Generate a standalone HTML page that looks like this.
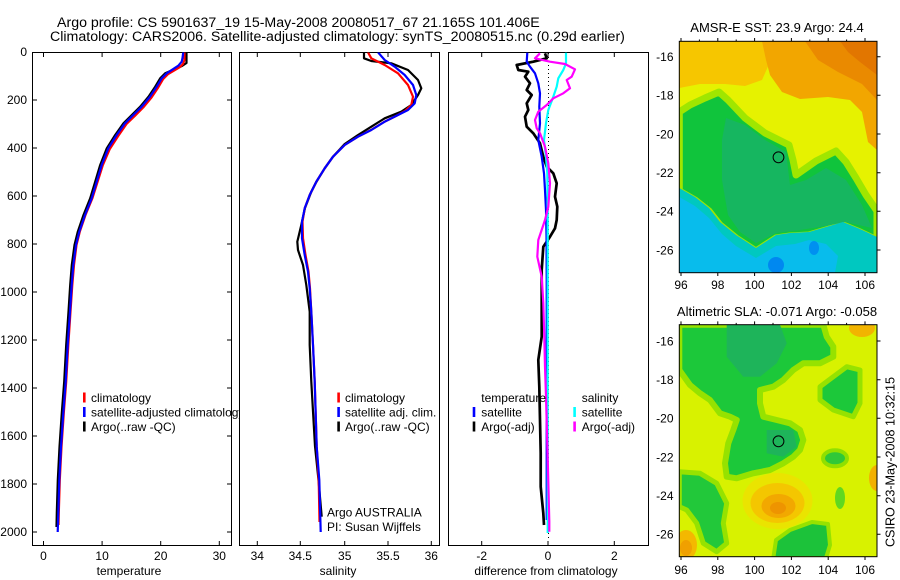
<!DOCTYPE html>
<html><head><meta charset="utf-8">
<style>
html,body{margin:0;padding:0;background:#fff;}
svg{display:block;}
text{font-family:"Liberation Sans",Arial,sans-serif;fill:#000;}
</style></head>
<body>
<svg width="900" height="580" viewBox="0 0 900 580" xmlns="http://www.w3.org/2000/svg">
<defs>
<clipPath id="c1"><rect x="32.5" y="52.5" width="199" height="493"/></clipPath>
<clipPath id="c2"><rect x="239.5" y="52.5" width="200" height="493"/></clipPath>
<clipPath id="c3"><rect x="448.5" y="52.5" width="200" height="493"/></clipPath>
<clipPath id="m1"><rect x="679.3" y="41.3" width="197.7" height="231.4"/></clipPath>
<clipPath id="m2"><rect x="679.3" y="324.7" width="197.7" height="232"/></clipPath>
</defs>
<rect width="900" height="580" fill="#fff"/>

<!-- Titles -->
<text x="57" y="27" font-size="14.2">Argo profile: CS 5901637_19 15-May-2008 20080517_67 21.165S 101.406E</text>
<text x="50" y="41" font-size="14.2">Climatology: CARS2006. Satellite-adjusted climatology: synTS_20080515.nc (0.29d earlier)</text>

<!-- ============ PANEL 1 ============ -->
<rect x="32.5" y="52.5" width="199" height="493" fill="#fff" stroke="#000" stroke-width="1"/>
<g stroke="#000" stroke-width="1">
<path d="M32.5 100H37M32.5 148H37M32.5 196H37M32.5 244H37M32.5 292H37M32.5 340H37M32.5 388H37M32.5 436H37M32.5 484H37M32.5 532H37"/>
<path d="M231.5 100H227M231.5 148H227M231.5 196H227M231.5 244H227M231.5 292H227M231.5 340H227M231.5 388H227M231.5 436H227M231.5 484H227M231.5 532H227"/>
<path d="M43.5 52.5V57M102.1 52.5V57M160.7 52.5V57M219.3 52.5V57"/>
<path d="M43.5 545.5V541M102.1 545.5V541M160.7 545.5V541M219.3 545.5V541"/>
</g>
<g font-size="12" text-anchor="end">
<text x="27" y="56">0</text><text x="27" y="104">200</text><text x="27" y="152">400</text>
<text x="27" y="200">600</text><text x="27" y="248">800</text><text x="27" y="296">1000</text>
<text x="27" y="344">1200</text><text x="27" y="392">1400</text><text x="27" y="440">1600</text>
<text x="27" y="488">1800</text><text x="27" y="536">2000</text>
</g>
<g font-size="12" text-anchor="middle">
<text x="43.5" y="560">0</text><text x="102.1" y="560">10</text><text x="160.7" y="560">20</text><text x="219.3" y="560">30</text>
<text x="129" y="575">temperature</text>
</g>
<g clip-path="url(#c1)" fill="none" stroke-width="2.2" stroke-linejoin="round">
<polyline stroke="#000" points="186.5,52 186.5,63 182,66 165.2,73.3 160.2,78.3 155.2,86.7 148.5,96.7 140.2,106.7 131.8,115 123.5,123.3 115.2,135 106.8,148.3 100.2,165 95.2,181.7 90.2,198.3 83.5,215 77.8,231.7 74.5,245 71.8,265 70.2,285 68.5,311.7 66.2,345 64.2,381.7 61.8,413 59.5,447 57.8,480 56.8,513 56.5,527"/>
<polyline stroke="#f00" points="184.5,52 184.5,60 183,64 180,67 168.2,74 163.2,79 158.2,87.5 151.5,97.5 143.2,107.5 134.8,116 126.5,124 118.2,136 109.8,149 102.7,165.5 97.5,182 92.3,198.5 85.5,215 79.8,231.7 76.5,245 74,265 72.3,285 70.5,311.7 68.3,345 66.2,381.7 63.8,413 61.5,447 59.8,480 58.8,513 58.5,525"/>
<polyline stroke="#00f" points="183.3,52 182.5,58 181.7,61.7 178.3,65.7 166.7,73.3 161.7,78.3 156.7,86.7 150,96.7 141.7,106.7 133.3,115 125,123.3 116.7,135 108.3,148.3 101.7,165 96.7,181.7 91.7,198.3 85,215 79.3,231.7 76,245 73.3,265 71.7,285 70,311.7 67.7,345 65.7,381.7 63.3,413 61,447 59.3,480 58.3,513 57.7,532"/>
</g>
<!-- legend 1 -->
<rect x="83" y="392.5" width="2.6" height="10" fill="#f00"/>
<rect x="83" y="407" width="2.6" height="10" fill="#00f"/>
<rect x="83" y="421.5" width="2.6" height="10" fill="#000"/>
<g font-size="12">
<text x="91" y="402">climatology</text>
<text x="91" y="416.5">satellite-adjusted climatology</text>
<text x="91" y="431">Argo(..raw -QC)</text>
</g>

<!-- ============ PANEL 2 ============ -->
<rect x="239.5" y="52.5" width="200" height="493" fill="#fff" stroke="#000" stroke-width="1"/>
<g stroke="#000" stroke-width="1">
<path d="M257.3 52.5V57M300.3 52.5V57M344.7 52.5V57M388 52.5V57M431.3 52.5V57"/>
<path d="M257.3 545.5V541M300.3 545.5V541M344.7 545.5V541M388 545.5V541M431.3 545.5V541"/>
</g>
<g font-size="12" text-anchor="middle">
<text x="257.3" y="560">34</text><text x="300.3" y="560">34.5</text><text x="344.7" y="560">35</text><text x="388" y="560">35.5</text><text x="431.3" y="560">36</text>
<text x="338" y="575">salinity</text>
</g>
<g clip-path="url(#c2)" fill="none" stroke-width="2.2" stroke-linejoin="round">
<polyline stroke="#000" points="364,52.3 364,58.3 371.3,61 391.3,63.3 408,70 418,80 421.3,88.3 418,95 411.3,105 401.3,111.7 384.7,118.3 371.3,126.7 358,135 344.7,144 333,156.7 324.7,168.3 316.3,182 311.3,191.7 305,208 301.3,225 297.3,241.7 298,250 303,265 306.3,285 309.7,311.7 309.7,345 311.3,381.7 315,446 318.5,480 321.7,516.7"/>
<polyline stroke="#f00" points="368,52.3 371.3,58.3 384.7,65 398,73.3 408,85 413,96.7 411.3,105 405,111 396,116 384,122 371,130 358,136.7 344.7,145 333,156.7 324.7,168.3 316.3,181.7 309.7,195 304.7,208.3 302.5,221.7 303,238.3 305.5,255 308.5,271.7 310,288.3 311.3,311.7 313,345 314.7,381.7 316.7,446.7 318.7,480 319.5,522"/>
<polyline stroke="#00f" points="378,52.3 384.7,60 394.7,66.7 404.7,75 413,85 416.3,95 414.7,103.3 408,110 398,115 384.7,121.7 371.3,130 358,136.7 344.7,145 333,156.7 324.7,168.3 316.3,181.7 309.7,195 304.7,208.3 302,221.7 302,238.3 304.7,255 308,271.7 309.7,288.3 311.3,311.7 313,345 314.7,381.7 316.7,446.7 319.3,480 320.7,532"/>
</g>
<rect x="337.3" y="392.5" width="2.6" height="10" fill="#f00"/>
<rect x="337.3" y="407" width="2.6" height="10" fill="#00f"/>
<rect x="337.3" y="421.5" width="2.6" height="10" fill="#000"/>
<g font-size="12">
<text x="345" y="402">climatology</text>
<text x="345" y="416.5">satellite adj. clim.</text>
<text x="345" y="431">Argo(..raw -QC)</text>
<text x="327" y="516.5">Argo AUSTRALIA</text>
<text x="327" y="531">PI: Susan Wijffels</text>
</g>

<!-- ============ PANEL 3 ============ -->
<rect x="448.5" y="52.5" width="200" height="493" fill="#fff" stroke="#000" stroke-width="1"/>
<g stroke="#000" stroke-width="1">
<path d="M481.7 52.5V57M548 52.5V57M614.3 52.5V57"/>
<path d="M481.7 545.5V541M548 545.5V541M614.3 545.5V541"/>
</g>
<line x1="548.5" y1="53" x2="548.5" y2="538" stroke="#000" stroke-width="1" stroke-dasharray="1 3"/>
<g font-size="12" text-anchor="middle">
<text x="481.7" y="560">-2</text><text x="548" y="560">0</text><text x="614.3" y="560">2</text>
<text x="546" y="575">difference from climatology</text>
</g>
<g clip-path="url(#c3)" fill="none" stroke-linejoin="round">
<polyline stroke="#000" stroke-width="2.7" points="545,53.3 546.7,58.3 533.3,61.7 516.7,65 518.3,70 528.3,71.7 525,76.7 530,83.3 526.7,90 531.7,95 526.7,103.3 528.3,110 525,116.7 526.7,126.7 533.3,133.3 540,143.3 543.3,156.7 546.7,166.7 553.3,173.3 556.7,183.3 555,196.7 557.3,206.7 556.7,220 555,228.3 550,236.7 543.3,246.7 541.7,270 541.7,303 541.7,336.7 538.3,360 539.3,386.7 540,420 540.7,453 540.7,486.7 543.3,513.3 544,525"/>
<polyline stroke="#00f" stroke-width="2.2" points="527.3,52.7 526.7,61.7 530,66.7 535,73.3 538.3,83.3 540,93.3 539.3,106.7 540,123.3 538.3,140 541.7,156.7 544,173.3 545,190 546,210 546.5,236 546.7,280 546.7,400 546.7,460 546.7,520"/>
<polyline stroke="#0ff" stroke-width="2.2" points="566,52.7 566,63.3 563.3,70 558.3,78.3 556.7,86.7 553.3,96.7 548.3,110 546,123.3 544,140 546,156.7 547.3,173.3 547.7,206.7 547.7,240 547.7,533"/>
<polyline stroke="#f0f" stroke-width="2.2" points="540,53.3 535,58.3 550,61.7 565,64 575,69.3 571.7,76.7 566.7,80 570,88.3 563.3,93.3 553.3,98.3 546.7,105 538.3,111.7 535,120 536.7,128.3 540,133.3 545,146.7 548.3,163.3 550,183.3 548.3,206.7 545,220 538.3,240 537.3,256.7 541.7,276.7 543.3,303 544.3,336.7 545,366.7 546,396.7 547.5,450 549.3,521.7 549.3,531.7"/>
</g>
<rect x="472.7" y="407" width="2.6" height="10" fill="#00f"/>
<rect x="472.7" y="421.5" width="2.6" height="10" fill="#000"/>
<rect x="573.3" y="407" width="2.6" height="10" fill="#0ff"/>
<rect x="573.3" y="421.5" width="2.6" height="10" fill="#f0f"/>
<g font-size="12">
<text x="481.3" y="402">temperature</text>
<text x="481.3" y="416.5">satellite</text>
<text x="481.3" y="431">Argo(-adj)</text>
<text x="581.7" y="402">salinity</text>
<text x="581.7" y="416.5">satellite</text>
<text x="581.7" y="431">Argo(-adj)</text>
</g>

<!-- ============ MAP 1 (SST) ============ -->
<text x="777" y="32" font-size="13" text-anchor="middle">AMSR-E SST: 23.9 Argo: 24.4</text>
<g clip-path="url(#m1)">
<rect x="679.3" y="41.3" width="197.7" height="231.4" fill="#e6f200"/>
<polygon fill="#f6c600" points="679.3,41.3 770,41.3 770,62 762,80 745,86 725,84 700,84 679.3,88"/>
<polygon fill="#f2a600" points="762,41.3 877,41.3 877,150 868,142 862,112 850,100 828,97 800,99 782,92 770,75 766,60"/>
<polygon fill="#ea8a00" points="805,41.3 877,41.3 877,100 862,84 838,72 818,60"/>
<polygon fill="#e27600" points="840,41.3 877,41.3 877,75 860,62 848,52"/>
<polygon fill="#10c43c" stroke="#a0e600" stroke-width="7" stroke-linejoin="round" points="679.3,112 690,105 705,98 719,92 728,100 745,118 765,133 789,145 793,160 796,175 806,168 816,161 828,155 836,151 846,162 856,178 866,195 877,211 877,240 860,232 843,225 826,230 809,235 790,236 776,238 756,251 736,238 720,225 709,211 695,200 679.3,191"/>
<polygon fill="#16b660" points="726,118 745,125 765,140 786,152 790,185 806,180 826,168 846,180 862,205 872,228 845,222 826,226 800,230 776,233 756,243 740,232 728,215 722,180 722,140"/>
<polygon fill="#00c8c0" points="679.3,188 695,197 709,208 720,222 736,235 756,248 776,235 790,233 809,232 826,227 843,222 860,229 877,237 877,272.7 679.3,272.7"/>
<polygon fill="#08bcec" points="679.3,197 695,206 709,218 722,234 736,246 756,258 776,246 795,244 809,240 826,244 838,256 835,272.7 679.3,272.7"/>
<ellipse cx="776" cy="265" rx="8" ry="8" fill="#0088f0"/>
<ellipse cx="814" cy="248" rx="5" ry="7" fill="#0090f0"/>
</g>
<rect x="679.3" y="41.3" width="197.7" height="231.4" fill="none" stroke="#000" stroke-width="1"/>
<circle cx="778.5" cy="157.3" r="5.4" fill="none" stroke="#000" stroke-width="1"/>
<g stroke="#000" stroke-width="1">
<path d="M681 41.3V38M699.4 41.3V39.5M717.8 41.3V38M736.2 41.3V39.5M754.6 41.3V38M773 41.3V39.5M791.4 41.3V38M809.8 41.3V39.5M828.2 41.3V38M846.6 41.3V39.5M865 41.3V38"/>
<path d="M681 272.7V276M717.8 272.7V276M754.6 272.7V276M791.4 272.7V276M828.2 272.7V276M865 272.7V276"/>
<path d="M877 56.7H880.5M877 95.3H880.5M877 134H880.5M877 172.7H880.5M877 211.3H880.5M877 250H880.5"/>
</g>
<g font-size="12" text-anchor="end">
<text x="673.5" y="61">-16</text><text x="673.5" y="99.6">-18</text><text x="673.5" y="138.3">-20</text>
<text x="673.5" y="177">-22</text><text x="673.5" y="215.6">-24</text><text x="673.5" y="254.3">-26</text>
</g>
<g font-size="12" text-anchor="middle">
<text x="681" y="289">96</text><text x="717.8" y="289">98</text><text x="754.6" y="289">100</text>
<text x="791.4" y="289">102</text><text x="828.2" y="289">104</text><text x="865" y="289">106</text>
</g>

<!-- ============ MAP 2 (SLA) ============ -->
<text x="777" y="316" font-size="13" text-anchor="middle">Altimetric SLA: -0.071 Argo: -0.058</text>
<g clip-path="url(#m2)">
<rect x="679.3" y="324.7" width="197.7" height="232" fill="#d8f200"/>
<polygon fill="#1cc83a" stroke="#96e200" stroke-width="6" stroke-linejoin="round" points="679.3,324.7 823.3,324.7 826.7,336.7 833.3,346.7 833.3,356.7 820,363.3 803.3,363.3 793.3,370 783.3,380 773.3,386.7 760,390 760,403.3 763.3,416.7 776.7,420 790,423.3 800,430 803.3,440 800,450 793.3,456.7 783.3,463.3 770,470 753.3,473.3 736.7,478.3 726.7,476.7 725,463.3 728.3,443.3 733.3,430 736.7,420 730,416.7 720,413.3 710,400 700,393.3 690,385 679.3,370"/>
<polygon fill="#1eb45a" points="726.7,324.7 780,324.7 786.7,343.3 776.7,363.3 760,376.7 743.3,376.7 726.7,356.7"/>
<polygon fill="#1eb45a" points="766.7,430 793.3,430 796.7,446.7 783.3,456.7 766.7,453.3"/>
<polygon fill="#22c83a" stroke="#96e200" stroke-width="5" stroke-linejoin="round" points="679.3,471.7 700,473.3 716.7,483.3 726.7,503.3 723.3,523.3 726.7,543.3 716.7,551.7 703.3,543.3 696.7,523.3 686.7,510 679.3,506.7"/>
<ellipse cx="777.5" cy="501" rx="35" ry="28" fill="#eae400"/>
<ellipse cx="777.5" cy="503" rx="27" ry="20" fill="#f4c600"/>
<ellipse cx="778.5" cy="506" rx="17" ry="12" fill="#f2a800"/>
<ellipse cx="778" cy="508" rx="8" ry="6" fill="#ee9400"/>
<ellipse cx="686" cy="545" rx="11" ry="15" fill="#f4b800"/>
<ellipse cx="686" cy="548" rx="6" ry="8" fill="#f0a000"/>
<polygon fill="#1cc23a" stroke="#96e200" stroke-width="4" stroke-linejoin="round" points="773.3,558 776,540 790,530 812,522 828,524 830,545 826,558"/>
<polygon fill="#1cc83a" stroke="#96e200" stroke-width="5" stroke-linejoin="round" points="820,386.7 833.3,376.7 846.7,366.7 860,370 860,403.3 853.3,416.7 833.3,410 820,400"/>
<ellipse cx="835" cy="458.3" rx="12" ry="8" fill="#30c838" stroke="#90e000" stroke-width="4"/>
<ellipse cx="840" cy="498" rx="5" ry="11" fill="#60d820"/>
<ellipse cx="862" cy="328" rx="13" ry="9" fill="#f2b400"/>
<ellipse cx="877" cy="478" rx="8" ry="13" fill="#f2b000"/>
</g>
<rect x="679.3" y="324.7" width="197.7" height="232" fill="none" stroke="#000" stroke-width="1"/>
<circle cx="778.5" cy="441.3" r="5.4" fill="none" stroke="#000" stroke-width="1"/>
<g stroke="#000" stroke-width="1">
<path d="M681 324.7V321.4M699.4 324.7V322.9M717.8 324.7V321.4M736.2 324.7V322.9M754.6 324.7V321.4M773 324.7V322.9M791.4 324.7V321.4M809.8 324.7V322.9M828.2 324.7V321.4M846.6 324.7V322.9M865 324.7V321.4"/>
<path d="M681 556.7V560M717.8 556.7V560M754.6 556.7V560M791.4 556.7V560M828.2 556.7V560M865 556.7V560"/>
<path d="M877 341H880.5M877 379.7H880.5M877 418.3H880.5M877 457H880.5M877 495.7H880.5M877 534.3H880.5"/>
</g>
<g font-size="12" text-anchor="end">
<text x="673.5" y="345.3">-16</text><text x="673.5" y="384">-18</text><text x="673.5" y="422.6">-20</text>
<text x="673.5" y="461.3">-22</text><text x="673.5" y="500">-24</text><text x="673.5" y="538.6">-26</text>
</g>
<g font-size="12" text-anchor="middle">
<text x="681" y="574">96</text><text x="717.8" y="574">98</text><text x="754.6" y="574">100</text>
<text x="791.4" y="574">102</text><text x="828.2" y="574">104</text><text x="865" y="574">106</text>
</g>

<text transform="translate(894.5,462) rotate(-90)" font-size="12.6" text-anchor="middle">CSIRO 23-May-2008 10:32:15</text>
</svg>
</body></html>
